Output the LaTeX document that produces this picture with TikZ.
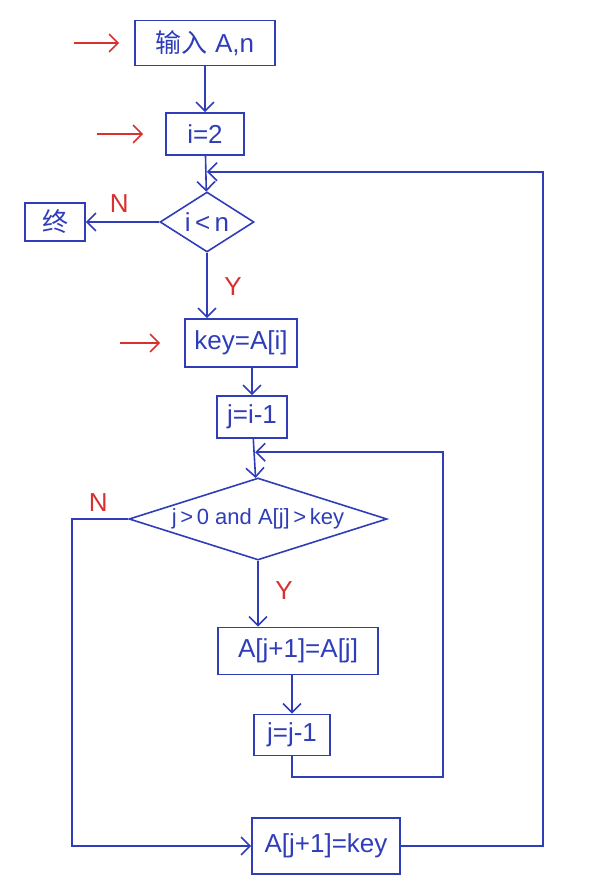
\documentclass[tikz,border=0pt]{standalone}
\usepackage{fontspec}
\setmainfont{Liberation Sans}
\newfontfamily\cjk{Noto Sans CJK SC}
\usepackage{tikz}
\usetikzlibrary{arrows.meta, positioning, calc, shapes.geometric}
\definecolor{ink}{HTML}{2F3DB8}
\definecolor{mark}{HTML}{D93030}
\tikzset{
  pbox/.style={rectangle, draw=ink, line width=1.6pt, text=ink,
               minimum width=#1, align=center, inner sep=3pt,
               font=\fontsize{26}{30}\selectfont},
  pbox/.default=70pt,
  cbox/.style={diamond, draw=ink, line width=1.6pt, text=ink, inner sep=0pt,
               aspect=#1, font=\fontsize{26}{30}\selectfont},
  cbox/.default=1.5,
  arr/.style={-{Straight Barb[length=9pt, width=18pt]}, line width=1.6pt, draw=#1},
  arr/.default=ink,
  redarr/.style={-{Straight Barb[length=9pt, width=18pt]}, line width=1.6pt, draw=mark},
  redlbl/.style={text=mark, font=\fontsize{26}{30}\selectfont},
}
\begin{document}
\begin{tikzpicture}[x=1pt, y=-1pt]
  \useasboundingbox (0,0) rectangle (614,888);

  \node[pbox=140pt, minimum height=45pt] (input) at (205,43) {{\cjk 输入} A,n};
  \node[pbox=78pt, minimum height=42pt] (init) at (205,134) {i=2};
  \node[cbox, minimum width=94pt, minimum height=60pt] (cond1) at (207,222) {i\,<\,n};
  \node[pbox=60pt, minimum height=38pt] (stop) at (55,222) {\cjk 终};
  \node[pbox=112pt, minimum height=48pt] (keyset) at (241,343) {key=A[i]};
  \node[pbox=70pt, minimum height=42pt] (jset) at (252,417) {j=i-1};
  \node[cbox=3.3, minimum width=258pt, minimum height=82pt,
        font=\fontsize{22}{26}\selectfont] (cond2) at (258,519) {j\,>\,0 and A[j]\,>\,key};
  \node[pbox=160pt, minimum height=47pt] (shift) at (298,651) {A[j+1]=A[j]};
  \node[pbox=76pt, minimum height=41pt] (dec) at (292,735) {j=j-1};
  \node[pbox=148pt, minimum height=56pt] (place) at (326,846) {A[j+1]=key};

  \coordinate (merge1) at ($(init.south)!0.45!(cond1.north)$);
  \coordinate (merge2) at ($(jset.south)!0.35!(cond2.north)$);
  \coordinate (innerbot) at (443,777);
  \coordinate (nocorner) at (72,846);
  \coordinate (outercorner) at (543,846);

  \draw[arr] (input) -- (init);
  \draw[arr] (init) -- (cond1);
  \draw[arr] (cond1.west) -- (stop.east);
  \draw[arr] (cond1.south) -- (cond1.south |- keyset.north);
  \draw[arr] (keyset.south -| jset) -- (jset.north);
  \draw[arr] (jset) -- (cond2);
  \draw[arr] (cond2.south) -- (cond2.south |- shift.north);
  \draw[arr] (shift.south -| dec) -- (dec.north);
  \draw[arr, shorten >=1pt] (dec.south) |- (innerbot) |- (merge2);
  \draw[arr] (cond2.west) -| (nocorner) -- (place.west);
  \draw[arr, shorten >=1pt] (place.east) -- (outercorner) |- (merge1);

  \draw[redarr] ([xshift=-60pt]input.west) -- ([xshift=-15pt]input.west);
  \draw[redarr] ([xshift=-68pt]init.west) -- ([xshift=-22pt]init.west);
  \draw[redarr] ([xshift=-64pt]keyset.west) -- ([xshift=-24pt]keyset.west);

  \node[redlbl] (n1) at ([xshift=-40pt, yshift=18pt]cond1.west) {N};
  \node[redlbl] (y1) at ([xshift=26pt, yshift=-34pt]cond1.south) {Y};
  \node[redlbl] (n2) at ([xshift=-30pt, yshift=16pt]cond2.west) {N};
  \node[redlbl] (y2) at ([xshift=26pt, yshift=-30pt]cond2.south) {Y};
\end{tikzpicture}
\end{document}
